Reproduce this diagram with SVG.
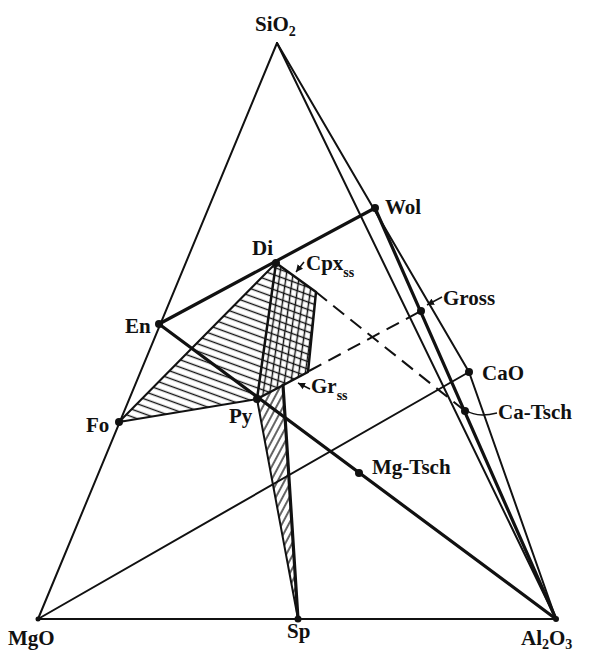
<svg xmlns="http://www.w3.org/2000/svg" width="600" height="654" viewBox="0 0 600 654">
<style>
.thin{stroke:#111;stroke-width:2;fill:none;stroke-linecap:round}
.thick{stroke:#111;stroke-width:3.2;fill:none;stroke-linecap:round}
.med{stroke:#111;stroke-width:2.5;fill:none;stroke-linejoin:round}
.dash{stroke:#111;stroke-width:2;fill:none;stroke-dasharray:14 8}
.lbl{font-family:"Liberation Serif","Times New Roman",serif;font-weight:bold;font-size:21px;fill:#111}
.sub{font-size:14px}
.dot{fill:#111}
.ptr{stroke:#111;stroke-width:1.5;fill:none}
</style>
<defs>
<pattern id="hA" patternUnits="userSpaceOnUse" width="10" height="7" patternTransform="rotate(20)">
<line x1="0" y1="3.5" x2="10" y2="3.5" stroke="#111" stroke-width="1.4"/>
</pattern>
<pattern id="hB" patternUnits="userSpaceOnUse" width="10" height="6.5" patternTransform="rotate(98)">
<line x1="0" y1="3.2" x2="10" y2="3.2" stroke="#111" stroke-width="1.4"/>
</pattern>
<pattern id="hC" patternUnits="userSpaceOnUse" width="10" height="6" patternTransform="rotate(-62)">
<line x1="0" y1="3" x2="10" y2="3" stroke="#111" stroke-width="1.3"/>
</pattern>
<marker id="arr" markerWidth="8" markerHeight="8" refX="7" refY="4" orient="auto" markerUnits="userSpaceOnUse">
<path d="M0,0.5 L7,4 L0,7.5 Z" fill="#111"/>
</marker>
</defs>
<rect width="600" height="654" fill="#ffffff"/>

<g id="regions">
<polygon id="region-fo-di-py" points="119,422 276,263 257,399" fill="url(#hA)"/>
<polygon id="region-cpx" points="276,263 316,292 308,372 257,399" fill="url(#hA)"/>
<polygon id="region-cpx-cross" points="276,263 316,292 308,372 257,399" fill="url(#hB)"/>
<polygon id="region-gr" points="257,399 283,385 298,619" fill="url(#hC)"/>
</g>

<g id="connectors">
<line class="thin" x1="277" y1="43" x2="38" y2="619"/>
<line class="thin" x1="277" y1="43" x2="556" y2="619"/>
<line class="thin" x1="38" y1="619" x2="556" y2="619"/>
<line class="thin" x1="277" y1="43" x2="469" y2="372"/>
<line class="thin" x1="469" y1="372" x2="556" y2="619"/>
<line class="thin" x1="38" y1="619" x2="469" y2="372"/>
<line class="thin" x1="119" y1="422" x2="257" y2="399"/>
<line class="thin" x1="119" y1="422" x2="276" y2="263"/>
<line class="thin" x1="257" y1="399" x2="298" y2="619"/>
<line class="thick" x1="375" y1="208" x2="159" y2="324"/>
<line class="thick" x1="159" y1="324" x2="556" y2="619"/>
<line class="thick" x1="375" y1="208" x2="556" y2="619"/>
<line class="med" x1="276" y1="263" x2="257" y2="399"/>
<polyline class="med" points="276,263 316,292 308,372 257,399"/>
<line class="thick" x1="283" y1="385" x2="298" y2="619"/>
<line class="dash" x1="316" y1="292" x2="465" y2="411"/>
<line class="dash" x1="309" y1="371" x2="421" y2="311"/>
<line class="ptr" x1="304" y1="262" x2="296" y2="272" marker-end="url(#arr)"/>
<line class="ptr" x1="310" y1="389" x2="298" y2="383" marker-end="url(#arr)"/>
<line class="ptr" x1="442" y1="297" x2="427" y2="305" marker-end="url(#arr)"/>
<path class="ptr" d="M466,410 Q476,418 497,413"/>
</g>

<g id="node-sio2"><text class="lbl" x="255" y="31">SiO<tspan class="sub" dy="5">2</tspan></text></g>
<g id="node-mgo"><circle class="dot" cx="38" cy="619" r="2.5"/><text class="lbl" x="8" y="645">MgO</text></g>
<g id="node-al2o3"><circle class="dot" cx="556" cy="619" r="3"/><text class="lbl" x="521" y="645">Al<tspan class="sub" dy="4">2</tspan><tspan dy="-4">O</tspan><tspan class="sub" dy="4">3</tspan></text></g>
<g id="node-sp"><circle class="dot" cx="298" cy="619" r="3.5"/><text class="lbl" x="287" y="638">Sp</text></g>
<g id="node-wol"><circle class="dot" cx="375" cy="208" r="4"/><text class="lbl" x="385" y="214">Wol</text></g>
<g id="node-di"><circle class="dot" cx="276" cy="263" r="4"/><text class="lbl" x="252" y="255">Di</text></g>
<g id="node-en"><circle class="dot" cx="159" cy="324" r="4"/><text class="lbl" x="125" y="333">En</text></g>
<g id="node-fo"><circle class="dot" cx="119" cy="422" r="4"/><text class="lbl" x="86" y="432">Fo</text></g>
<g id="node-py"><circle class="dot" cx="257" cy="399" r="4"/><text class="lbl" x="229" y="423">Py</text></g>
<g id="node-mgtsch"><circle class="dot" cx="359" cy="473" r="4"/><text class="lbl" x="372" y="474">Mg-Tsch</text></g>
<g id="node-gross"><circle class="dot" cx="421" cy="311" r="4"/><text class="lbl" x="443" y="305">Gross</text></g>
<g id="node-cao"><circle class="dot" cx="469" cy="372" r="4"/><text class="lbl" x="482" y="380">CaO</text></g>
<g id="node-catsch"><circle class="dot" cx="465" cy="411" r="4"/><text class="lbl" x="498" y="419">Ca-Tsch</text></g>
<g id="node-cpx"><text class="lbl" x="306" y="270">Cpx<tspan class="sub" dy="7">ss</tspan></text></g>
<g id="node-gr"><text class="lbl" x="311" y="393">Gr<tspan class="sub" dy="7">ss</tspan></text></g>
</svg>
